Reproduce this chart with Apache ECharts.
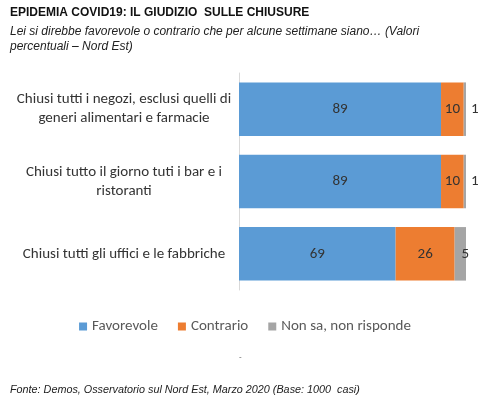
<!DOCTYPE html>
<html>
<head>
<meta charset="utf-8">
<script src="https://cdn.jsdelivr.net/npm/echarts@6/dist/echarts.min.js"></script>
<style>
  html, body { margin: 0; padding: 0; background: #fff; }
  #chart { width: 490px; height: 397px; }
</style>
</head>
<body>
<div id="chart"></div>
<script>
// data
const categories = [
  'Chiusi tutti i negozi, esclusi quelli di\ngeneri alimentari e farmacie',
  'Chiusi tutto il giorno tuti i bar e i\nristoranti',
  'Chiusi tutti gli uffici e le fabbriche'
];
const favorevole = [89, 89, 69];
const contrario = [10, 10, 26];
const nonSa = [1, 1, 5];
const seriesNames = ['Favorevole', 'Contrario', 'Non sa, non risponde'];

const labelFont = 'Carlito, "Noto Sans", sans-serif';
const chart = echarts.init(document.getElementById('chart'));

const barLabel = {
  show: true,
  color: '#333',
  fontSize: 15,
  fontFamily: labelFont
};

const option = {
  animation: false,
  title: [
    {
      text: 'EPIDEMIA COVID19: IL GIUDIZIO  SULLE CHIUSURE',
      left: 5, top: 2,
      textStyle: { fontFamily: 'Liberation Sans, Arial', fontWeight: 'bold', fontSize: 12, color: '#111' }
    },
    {
      text: 'Lei si direbbe favorevole o contrario che per alcune settimane siano\u2026 (Valori\npercentuali \u2013 Nord Est)',
      left: 5, top: 19,
      textStyle: { fontFamily: 'Liberation Sans, Arial', fontStyle: 'italic', fontWeight: 'normal', fontSize: 12, color: '#222', lineHeight: 15 }
    },
    {
      text: 'Fonte: Demos, Osservatorio sul Nord Est, Marzo 2020 (Base: 1000  casi)',
      left: 5, top: 379,
      textStyle: { fontFamily: 'Liberation Sans, Arial', fontStyle: 'italic', fontWeight: 'normal', fontSize: 10.8, color: '#222' }
    }
  ],
  graphic: [
    { type: 'text', left: 239, top: 353, style: { text: '-', fontSize: 8, fill: '#555' } }
  ],
  legend: {
    top: 314,
    left: 'center',
    itemWidth: 8,
    itemHeight: 8,
    itemGap: 20,
    icon: 'rect',
    textStyle: { fontFamily: labelFont, fontSize: 15, color: '#595959' },
    data: seriesNames
  },
  grid: { left: 239, right: 24, top: 73, bottom: 107 },
  xAxis: {
    type: 'value',
    min: 0,
    max: 100,
    show: false
  },
  yAxis: {
    type: 'category',
    inverse: true,
    data: categories,
    axisLine: { show: true, lineStyle: { color: '#D9D9D9' } },
    axisTick: { show: false },
    axisLabel: {
      align: 'center',
      margin: 115,
      fontFamily: labelFont,
      fontSize: 15,
      lineHeight: 19,
      color: '#333'
    }
  },
  series: [
    {
      name: seriesNames[0], type: 'bar', stack: 'tot',
      barCategoryGap: '26%',
      itemStyle: { color: '#5B9BD5' },
      label: Object.assign({ position: 'inside' }, barLabel),
      data: favorevole
    },
    {
      name: seriesNames[1], type: 'bar', stack: 'tot',
      itemStyle: { color: '#ED7D31' },
      label: Object.assign({ position: 'inside' }, barLabel),
      data: contrario
    },
    {
      name: seriesNames[2], type: 'bar', stack: 'tot',
      itemStyle: { color: '#A5A5A5' },
      label: Object.assign({ position: 'right', distance: 5 }, barLabel),
      data: nonSa.map(v => v >= 5 ? { value: v, label: { position: 'inside', offset: [5, 0] } } : v)
    }
  ]
};

chart.setOption(option);
</script>
</body>
</html>
